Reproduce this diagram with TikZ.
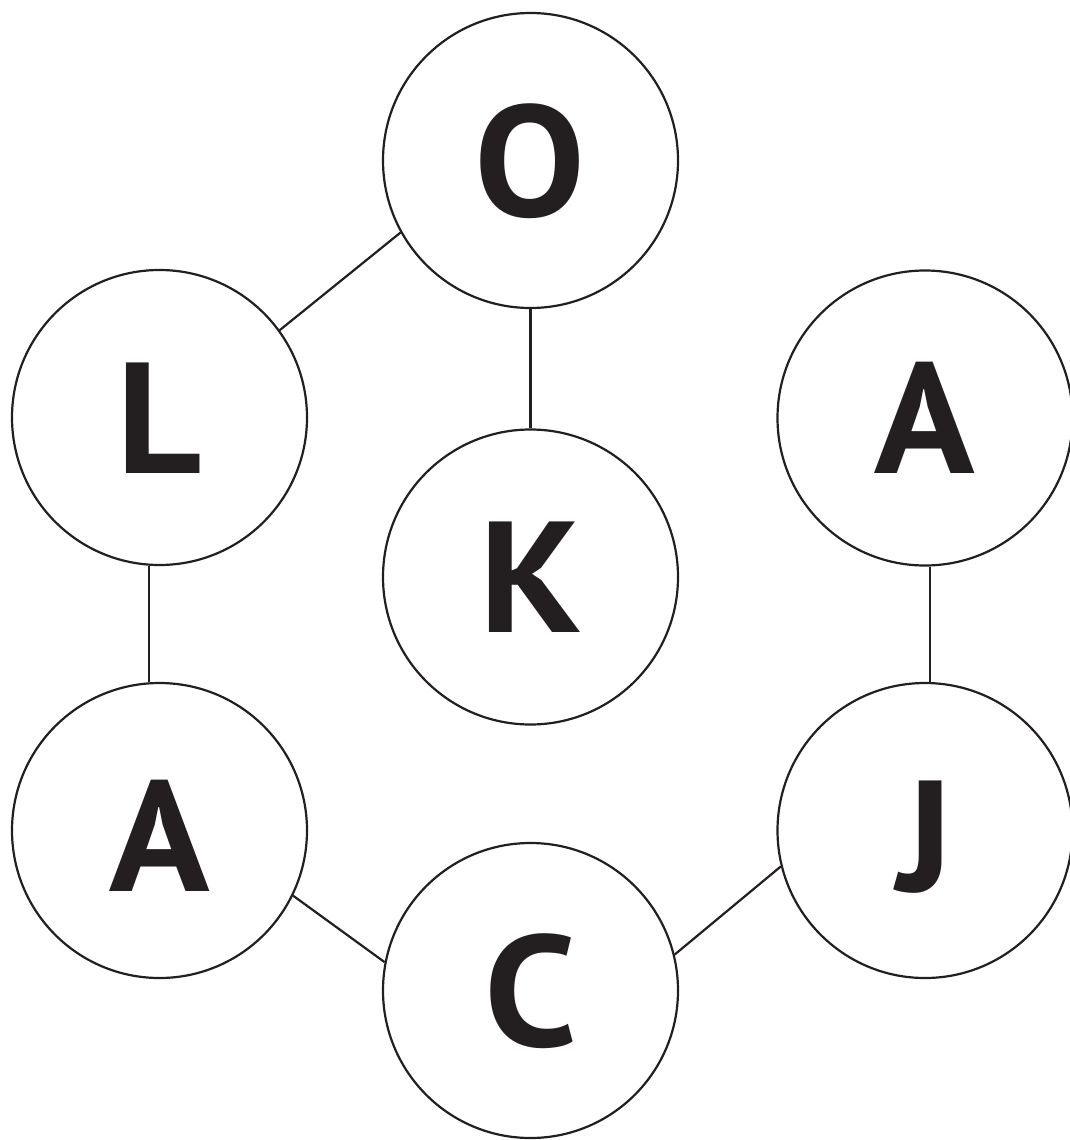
\documentclass[tikz,border=0pt]{standalone}
\usepackage{fontspec}
\setmainfont{PT Sans}[FakeStretch=1.05]
\definecolor{ink}{HTML}{231F20}
\begin{document}
\begin{tikzpicture}[x=1pt,y=-1pt,
  letter/.style={circle,draw=ink,line width=2.2pt,minimum size=295pt,inner sep=0pt,
    text=ink,font=\fontsize{158pt}{160pt}\selectfont\bfseries,text height=111pt,text depth=0pt},
  link/.style={draw=ink,line width=2.2pt}]
\useasboundingbox (0,0) rectangle (1069,1140);
\node[letter] (O)  at (530.5,160.5) {O};
\node[letter] (L)  at (159.5,417.5) {L};
\node[letter] (K)  at (530.5,577) {K};
\node[letter] (Ar) at (925,418) {A};
\node[letter] (Al) at (159.5,830.5) {\raisebox{-5pt}{A}};
\node[letter] (J)  at (925,830.5) {\raisebox{-5pt}{J}};
\node[letter] (C)  at (530.5,990.5) {C};
\draw[link] (L.36) -- (O.209);
\draw[link] (O) -- (K);
\draw[link] (L.266.9) -- (L.266.9 |- Al.north);
\draw[link] (Al.334.5) -- (C.169.3);
\draw[link] (C.14.9) -- (J.194.7);
\draw[link] (Ar.272.7) -- (Ar.272.7 |- J.north);
\end{tikzpicture}
\end{document}
